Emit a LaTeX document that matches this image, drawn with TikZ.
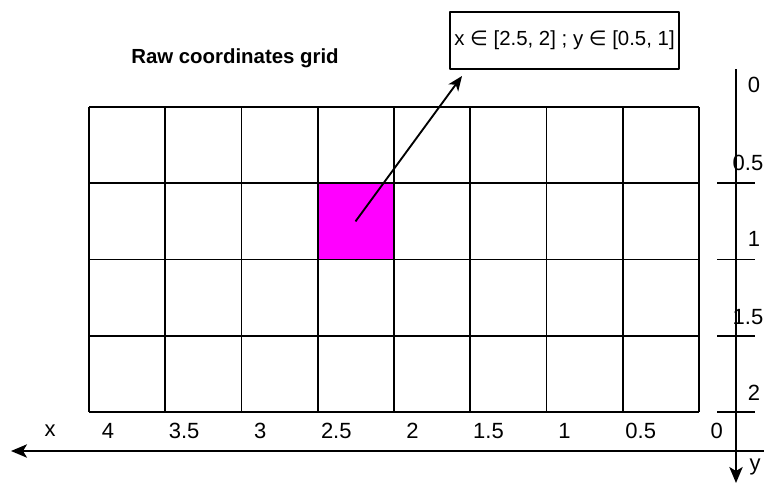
\documentclass[tikz,border=0pt]{standalone}
\usepackage{fontspec}
\setmainfont{Liberation Sans}
\newfontfamily\symfont{DejaVu Sans}
\usetikzlibrary{arrows.meta}

\definecolor{hitmagenta}{HTML}{FF00FF}

\begin{document}
\begin{tikzpicture}[
  x=0.75pt,
  y=-0.75pt,
  line join=round,
  gridline/.style={draw=black,line width=1.4pt},
  axisline/.style={draw=black,line width=1.4pt,-{Stealth[length=12pt,width=10pt,inset=3pt]}},
  tickline/.style={draw=black,line width=1.4pt},
  pointer/.style={draw=black,line width=1.4pt,-{Stealth[length=11pt,width=9pt,inset=3pt]}},
  rangebox/.style={draw=black,line width=1.4pt,minimum width=171.75pt,minimum height=42.75pt,inner sep=0pt,font=\fontsize{15.3}{18}\selectfont},
  axislabel/.style={inner sep=0pt,font=\fontsize{16.5}{19}\selectfont},
  title/.style={inner sep=0pt,font=\fontsize{15.3}{18}\selectfont\bfseries}
]
  % Keep the frame of the original artwork.
  \useasboundingbox (0,0) rectangle (764,483);

  % Highlighted cell of the raw grid.
  \fill[hitmagenta] (317.4,183.25) rectangle (393.6,259.5);
  \coordinate (cellCenter) at (355.5,221.4);

  % Raw 8x4 grid.
  \foreach \col in {0,...,8}
    \draw[gridline] (89+\col*76.25,107) -- (89+\col*76.25,412);
  \foreach \row in {0,...,4}
    \draw[gridline] (89,107+\row*76.25) -- (699,107+\row*76.25);

  \node[title] (gridTitle) at (235,58) {Raw coordinates grid};

  % Range of the highlighted cell.
  \node[rangebox] (rangeBox) at (564.5,40.5)
    {x {\symfont ∈} [2.5, 2] ; y {\symfont ∈} [0.5, 1]};
  \coordinate (boxTip) at (462,76);
  \draw[pointer] (cellCenter) -- (boxTip);

  % Axes: x runs to the left, y runs downwards.
  \coordinate (yAxisTop) at (736,69);
  \coordinate (yAxisEnd) at (736,483);
  \coordinate (xAxisStart) at (770,451);
  \coordinate (xAxisEnd) at (11,451);
  \draw[axisline] (yAxisTop) -- (yAxisEnd);
  \draw[axisline] (xAxisStart) -- (xAxisEnd);

  % Ticks on the y axis.
  \foreach \row in {1,...,4}
    \draw[tickline] (717,107+\row*76.25) -- (755,107+\row*76.25);

  % Axis labels.
  \foreach \lab [count=\i from 0] in {4,3.5,3,2.5,2,1.5,1,0.5,0}
    \node[axislabel] (xLab\i) at (108+\i*76.1,431) {\lab};
  \node[axislabel] (yLab0) at (754,85) {0};
  \node[axislabel,anchor=east] (yLab1) at (763.5,163) {0.5};
  \node[axislabel] (yLab2) at (754,239) {1};
  \node[axislabel,anchor=east] (yLab3) at (763.5,317) {1.5};
  \node[axislabel] (yLab4) at (754,393) {2};
  \node[axislabel] (xName) at (50,431) {x};
  \node[axislabel] (yName) at (755,467) {y};
\end{tikzpicture}
\end{document}
